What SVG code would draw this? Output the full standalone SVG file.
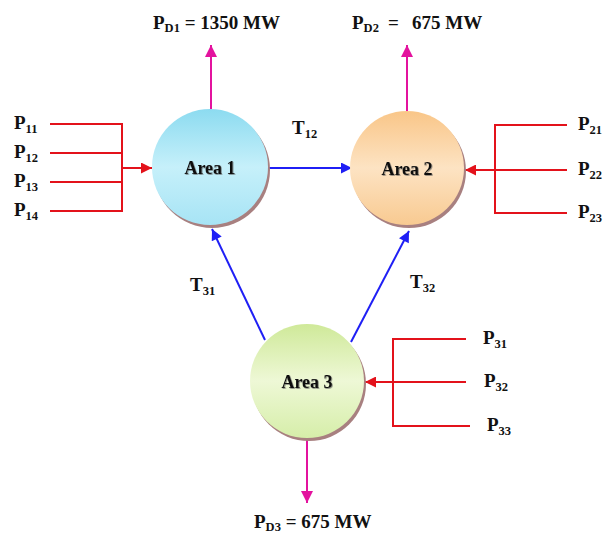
<svg xmlns="http://www.w3.org/2000/svg" width="609" height="533" viewBox="0 0 609 533">
<defs>
<style>
.t{font-family:"Liberation Serif","Times New Roman",serif;font-weight:bold;font-size:19px;fill:#111}
.s{font-size:12.5px}
.a{font-size:18px;text-anchor:middle;filter:url(#ts)}
.red{stroke:#e3121b;stroke-width:2;fill:none}
.blue{stroke:#1f1ff5;stroke-width:2;fill:none}
.mag{stroke:#e3139e;stroke-width:2;fill:none}
.sh{fill:#a88080}
</style>
<filter id="ts" x="-20%" y="-40%" width="140%" height="180%"><feDropShadow dx="0.8" dy="0.8" stdDeviation="0.6" flood-color="#555" flood-opacity="0.7"/></filter>
<linearGradient id="g1" x1="0" y1="0" x2="0" y2="1"><stop offset="0" stop-color="#8cdbf0"/><stop offset="0.5" stop-color="#c6f0fa"/><stop offset="1" stop-color="#a7e4f5"/></linearGradient>
<linearGradient id="g2" x1="0" y1="0" x2="0" y2="1"><stop offset="0" stop-color="#f9c688"/><stop offset="0.5" stop-color="#fde3c3"/><stop offset="1" stop-color="#f8ca91"/></linearGradient>
<linearGradient id="g3" x1="0" y1="0" x2="0" y2="1"><stop offset="0" stop-color="#cfe999"/><stop offset="0.5" stop-color="#eef8d6"/><stop offset="1" stop-color="#d6eea9"/></linearGradient>
<marker id="mr" viewBox="0 0 10 10" refX="10" refY="5" markerWidth="12" markerHeight="11" markerUnits="userSpaceOnUse" orient="auto"><path d="M0,0L10,5L0,10z" fill="#e3121b"/></marker>
<marker id="mb" viewBox="0 0 10 10" refX="10" refY="5" markerWidth="12" markerHeight="11" markerUnits="userSpaceOnUse" orient="auto"><path d="M0,0L10,5L0,10z" fill="#1f1ff5"/></marker>
<marker id="mm" viewBox="0 0 10 10" refX="10" refY="5" markerWidth="13" markerHeight="12" markerUnits="userSpaceOnUse" orient="auto"><path d="M0,0L10,5L0,10z" fill="#e3139e"/></marker>
</defs>
<rect width="609" height="533" fill="#fff"/>

<g id="connectors">
<path class="mag" d="M211,109V45" marker-end="url(#mm)"/>
<path class="mag" d="M407,111V45" marker-end="url(#mm)"/>
<path class="mag" d="M307,438V503" marker-end="url(#mm)"/>
<path class="blue" d="M269,168H352" marker-end="url(#mb)"/>
<path class="blue" d="M265,340L212,229" marker-end="url(#mb)"/>
<path class="blue" d="M351,342L409,231" marker-end="url(#mb)"/>
<path class="red" d="M50,124H122V211H50M50,153H122M50,182H122"/>
<path class="red" d="M122,168H152" marker-end="url(#mr)"/>
<path class="red" d="M567,125H495V213H567"/>
<path class="red" d="M567,170H465" marker-end="url(#mr)"/>
<path class="red" d="M466,339H393V426H470"/>
<path class="red" d="M466,382H365" marker-end="url(#mr)"/>
</g>

<g id="area1">
<circle class="sh" cx="212" cy="170" r="58"/>
<circle cx="210" cy="167" r="58" fill="url(#g1)"/>
<text class="t a" x="210" y="174">Area 1</text>
</g>
<g id="area2">
<circle class="sh" cx="409" cy="171" r="57"/>
<circle cx="407" cy="168" r="57" fill="url(#g2)"/>
<text class="t a" x="407" y="175">Area 2</text>
</g>
<g id="area3">
<circle class="sh" cx="309" cy="384" r="57"/>
<circle cx="307" cy="381" r="57" fill="url(#g3)"/>
<text class="t a" x="307" y="388">Area 3</text>
</g>

<g id="labels">
<text class="t" x="153" y="29">P<tspan class="s" dy="3">D1</tspan><tspan dy="-3"> = 1350 MW</tspan></text>
<text class="t" x="352" y="29">P<tspan class="s" dy="3">D2</tspan><tspan dy="-3" x="388">=</tspan><tspan x="412">675 MW</tspan></text>
<text class="t" x="254" y="528">P<tspan class="s" dy="3">D3</tspan><tspan dy="-3"> = 675 MW</tspan></text>
<text class="t" x="14" y="129">P<tspan class="s" dy="4">11</tspan></text>
<text class="t" x="14" y="158">P<tspan class="s" dy="4">12</tspan></text>
<text class="t" x="14" y="187">P<tspan class="s" dy="4">13</tspan></text>
<text class="t" x="14" y="216">P<tspan class="s" dy="4">14</tspan></text>
<text class="t" x="578" y="130">P<tspan class="s" dy="4">21</tspan></text>
<text class="t" x="578" y="175">P<tspan class="s" dy="4">22</tspan></text>
<text class="t" x="578" y="218">P<tspan class="s" dy="4">23</tspan></text>
<text class="t" x="483" y="344">P<tspan class="s" dy="4">31</tspan></text>
<text class="t" x="484" y="387">P<tspan class="s" dy="4">32</tspan></text>
<text class="t" x="487" y="431">P<tspan class="s" dy="4">33</tspan></text>
<text class="t" x="292" y="134">T<tspan class="s" dy="4">12</tspan></text>
<text class="t" x="190" y="291">T<tspan class="s" dy="4">31</tspan></text>
<text class="t" x="410" y="288">T<tspan class="s" dy="4">32</tspan></text>
</g>
</svg>
